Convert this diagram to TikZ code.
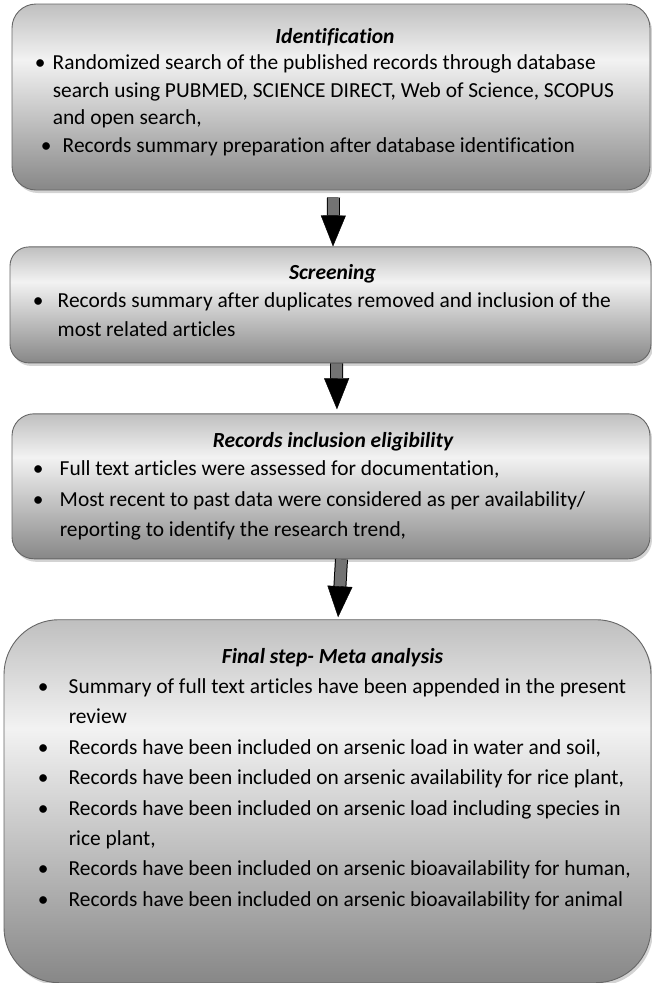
\documentclass[tikz,border=0pt]{standalone}
\usepackage{fontspec}
\setmainfont{Carlito}[Ligatures=NoCommon]
\usetikzlibrary{positioning,arrows.meta,shadows}
\pgfdeclareverticalshading{stageshade}{100bp}{color(0bp)=(black!47); color(25bp)=(black!47);
  color(60bp)=(black!5); color(75bp)=(black!25); color(100bp)=(black!25)}
\tikzset{
  stage/.style={rounded corners=22pt, draw=black!60, line width=0.9pt,
                shade, shading=stageshade, inner sep=0pt,
                drop shadow={shadow xshift=2pt, shadow yshift=-3pt, opacity=0.35}},
  head/.style={font=\fontsize{21.5}{23}\selectfont\bfseries\itshape, inner sep=0pt, anchor=base},
  body/.style={font=\fontsize{21.4}{29}\selectfont, align=left, inner sep=0pt, anchor=north west},
  blkar/.style={line width=1pt, draw=black, double=black!55, double distance=11pt,
                -{Triangle[width=25pt,length=31pt,line width=0.4pt,color=black]}},
}
\newcommand{\bitem}[2]{\strut\hspace*{#1}\makebox[#2][l]{\textbullet}}

\begin{document}
\begin{tikzpicture}
  \useasboundingbox (0,0) rectangle (652pt,-983pt);
  % stage boxes
  \node[stage, minimum width=638pt, minimum height=186pt, rounded corners=24pt] (ident) at (331pt,-97pt) {};
  \node[stage, minimum width=641pt, minimum height=116pt, below=56pt of ident, xshift=-0.5pt,
        rounded corners=19pt] (screen) {};
  \node[stage, minimum width=638pt, minimum height=145pt, below=50pt of screen, xshift=0.5pt] (elig) {};
  \node[stage, minimum width=647pt, minimum height=363pt, below=60pt of elig, xshift=-3.5pt,
        rounded corners=55pt] (meta) {};

  % texts
  \node[head] (identh) at ([xshift=4pt,yshift=-40pt]ident.north) {Identification};
  \node[body, font=\fontsize{21.4}{27.6}\selectfont] (identb) at ([xshift=20pt,yshift=-46.7pt]ident.north west)
    {\bitem{3pt}{18pt}Randomized search of the published records through database\\
     \hspace*{21pt}search using PUBMED, SCIENCE DIRECT, Web of Science, SCOPUS\\
     \hspace*{21pt}and open search,\\
     \hspace*{9pt}\makebox[22pt][l]{\textbullet}Records summary preparation after database identification};

  \node[head] (screenh) at ([xshift=2pt,yshift=-33pt]screen.north) {Screening};
  \node[body] (screenb) at ([xshift=20pt,yshift=-40.7pt]screen.north west)
    {\bitem{3pt}{25pt}Records summary after duplicates removed and inclusion of the\\
     \hspace*{28pt}most related articles};

  \node[head] (eligh) at ([xshift=2pt,yshift=-34pt]elig.north) {Records inclusion eligibility};
  \node[body, font=\fontsize{21.4}{30.5}\selectfont] (eligb) at ([xshift=20pt,yshift=-40.7pt]elig.north west)
    {\bitem{1pt}{27pt}Full text articles were assessed for documentation,\\
     \hspace*{1pt}\makebox[27pt][l]{\textbullet}Most recent to past data were considered as per availability/\\
     \hspace*{28pt}reporting to identify the research trend,};

  \node[head] (metah) at ([xshift=5pt,yshift=-44pt]meta.north) {Final step- Meta analysis};
  \node[body, font=\fontsize{21.4}{30.4}\selectfont] (metab) at ([xshift=20pt,yshift=-52.7pt]meta.north west)
    {\bitem{14pt}{31pt}Summary of full text articles have been appended in the present\\
     \hspace*{45pt}review\\
     \hspace*{14pt}\makebox[31pt][l]{\textbullet}Records have been included on arsenic load in water and soil,\\
     \hspace*{14pt}\makebox[31pt][l]{\textbullet}Records have been included on arsenic availability for rice plant,\\
     \hspace*{14pt}\makebox[31pt][l]{\textbullet}Records have been included on arsenic load including species in\\
     \hspace*{45pt}rice plant,\\
     \hspace*{14pt}\makebox[31pt][l]{\textbullet}Records have been included on arsenic bioavailability for human,\\
     \hspace*{14pt}\makebox[31pt][l]{\textbullet}Records have been included on arsenic bioavailability for animal};

  % block arrows
  \draw[blkar] ([xshift=2.5pt,yshift=-7pt]ident.south) -- ([xshift=2.5pt]screen.north);
  \draw[blkar, shorten >=4pt] ([xshift=6pt]screen.south) -- ([xshift=6pt]elig.north);
  \draw[blkar, shorten >=2pt] ([xshift=10.5pt]elig.south) -- ([xshift=10.5pt]meta.north);
\end{tikzpicture}
\end{document}
